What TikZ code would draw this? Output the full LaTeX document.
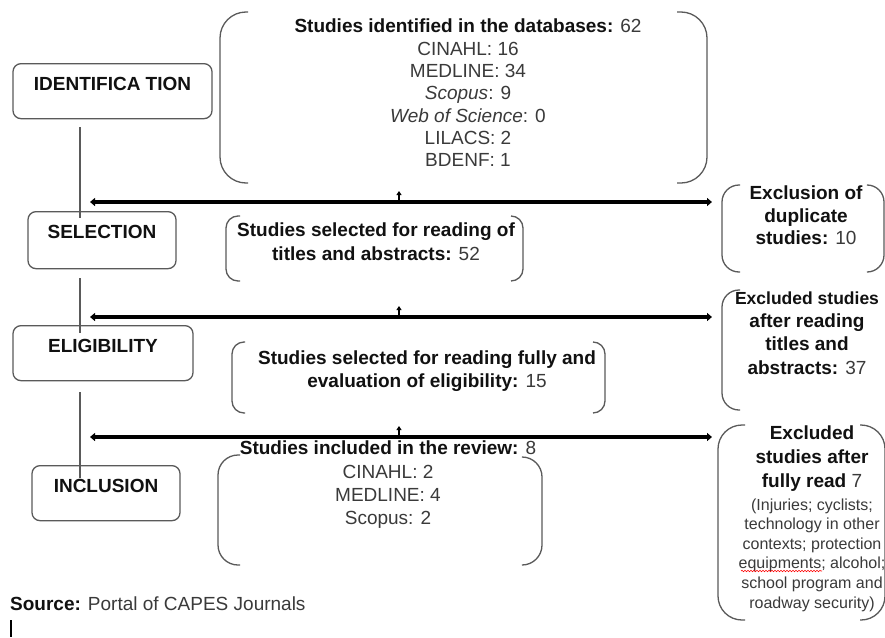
\documentclass[tikz,border=0pt]{standalone}
\usepackage{fontspec}
\setmainfont{Liberation Sans}
\usetikzlibrary{arrows.meta,decorations.pathmorphing}
\definecolor{txtgray}{HTML}{3A3A3A}
\definecolor{hdcol}{HTML}{111111}
\definecolor{linegray}{HTML}{5A5A5A}
\newcommand\myhd[1]{{\bfseries\color{hdcol}#1}}
\begin{document}
\begin{tikzpicture}[x=1pt,y=-1pt,
  phasebox/.style={draw=linegray,line width=1.3pt,rounded corners=8pt,anchor=north,
    inner xsep=0pt,inner ysep=0pt,text height=26.5pt,
    font=\fontsize{19}{22}\selectfont\bfseries,text=hdcol},
  brk/.style={draw=linegray,line width=1.3pt},
  vline/.style={draw=linegray,line width=1.3pt},
  harrow/.style={line width=3.5pt,{Triangle[length=5pt,width=8pt]}-{Triangle[length=5pt,width=8pt]}},
  uptick/.style={line width=1.5pt,-{Triangle[length=4pt,width=5pt]}},
  txt/.style={align=center,text=txtgray,inner sep=0pt}
]
\clip (0,0) rectangle (885,637);
\fill[white] (0,0) rectangle (885,637);

% phase boxes
\node[phasebox,minimum width=199pt,text depth=28.5pt] (id)  at (112.5,63) {IDENTIFICA TION};
\node[phasebox,minimum width=148pt,text depth=30.5pt] (sel) at (102,211) {SELECTION};
\node[phasebox,minimum width=180pt,text depth=28.5pt] (eli) at (103,325) {ELIGIBILITY};
\node[phasebox,minimum width=148pt,text depth=28.5pt] (inc) at (106,465) {INCLUSION};

% vertical connectors
\coordinate (xcol) at (80,0);
\draw[vline] ([yshift=-8pt]id.south -| xcol) -- ([yshift=-7pt]sel.north -| xcol);
\draw[vline] ([yshift=-9pt]sel.south -| xcol) -- ([yshift=-8pt]eli.north -| xcol);
\draw[vline] ([yshift=-11pt]eli.south -| xcol) -- ([yshift=-13pt]inc.north -| xcol);

% text groups
\node[txt,font=\fontsize{19}{22.3}\selectfont] (ident) at (468,93)
  {\myhd{Studies identified in the databases:} 62\\CINAHL: 16\\MEDLINE: 34\\\textit{Scopus}: 9\\\textit{Web of Science}: 0\\LILACS: 2\\BDENF: 1};
\node[txt,font=\fontsize{19}{24}\selectfont] (selt) at (376,242)
  {\myhd{Studies selected for reading of}\\\myhd{titles and abstracts:} 52};
\node[txt,font=\fontsize{19}{23}\selectfont] (elit) at (427,371.5)
  {\myhd{Studies selected for reading fully and}\\\myhd{evaluation of eligibility:} 15};
\node[txt,font=\fontsize{19}{23.3}\selectfont] (inct) at (388,485)
  {\myhd{Studies included in the review:} 8\\CINAHL: 2\\MEDLINE: 4\\Scopus: 2};
\node[txt,font=\fontsize{19}{22.5}\selectfont] (exa) at (806,215.5)
  {\myhd{Exclusion of}\\\myhd{duplicate}\\\myhd{studies:} 10};
\node[txt,font=\fontsize{19}{23.3}\selectfont] (exb) at (807,333)
  {{\fontsize{17.5}{23.3}\selectfont\myhd{Excluded studies}}\\\myhd{after reading}\\\myhd{titles and}\\\myhd{abstracts:} 37};
\node[txt,font=\fontsize{19}{24}\selectfont] (exc) at (812,459)
  {\myhd{Excluded}\\\myhd{studies after}\\\myhd{fully read} 7};
\node[txt,font=\fontsize{16}{19.6}\selectfont] (excd) at (812,555)
  {(Injuries; cyclists;\\technology in other\\contexts; protection\\equipments; alcohol;\\school program and\\roadway security)};
\draw[red,line width=0.6pt,decorate,decoration={snake,amplitude=0.7pt,segment length=3pt}] (741,571) -- (822,571);

% brackets
\draw[brk,rounded corners=26pt] (248,12) -- (220,12) -- (220,183) -- (248,183);
\draw[brk,rounded corners=26pt] (677,12) -- (707,12) -- (707,183) -- (677,183);
\draw[brk,rounded corners=12pt] (240,216) -- (226,216) -- (226,281) -- (240,281);
\draw[brk,rounded corners=12pt] (511,216) -- (523,216) -- (523,281) -- (511,281);
\draw[brk,rounded corners=12pt] (245,342) -- (232,342) -- (232,413) -- (245,413);
\draw[brk,rounded corners=12pt] (593,342) -- (605,342) -- (605,413) -- (593,413);
\draw[brk,rounded corners=20pt] (240,455) -- (218,455) -- (218,565) -- (240,565);
\draw[brk,rounded corners=20pt] (523,457) -- (542,457) -- (542,565) -- (523,565);
\draw[brk,rounded corners=17pt] (740,185) -- (722,185) -- (722,272) -- (740,272);
\draw[brk,rounded corners=17pt] (868,185) -- (884,185) -- (884,272) -- (868,272);
\draw[brk,rounded corners=17pt] (740,290) -- (722,290) -- (722,410) -- (740,410);
\draw[brk,rounded corners=17pt] (887,290) -- (904,290) -- (904,410) -- (887,410);
\draw[brk,rounded corners=24pt] (745,425) -- (718,425) -- (718,620) -- (745,620);
\draw[brk,rounded corners=24pt] (860,425) -- (885,425) -- (885,620) -- (860,620);

% horizontal arrows
\coordinate (a1l) at (90,202);  \coordinate (a1r) at (712,202);
\coordinate (a1m) at (399,202); \coordinate (a1t) at (399,191);
\coordinate (a2l) at (90,317);  \coordinate (a2r) at (712,317);
\coordinate (a2m) at (399,317); \coordinate (a2t) at (399,306);
\coordinate (a3l) at (90,437);  \coordinate (a3r) at (712,437);
\coordinate (a3m) at (399,437); \coordinate (a3t) at (399,426);
\draw[harrow] (a1l) -- (a1r);
\draw[uptick] (a1m) -- (a1t);
\draw[harrow] (a2l) -- (a2r);
\draw[uptick] (a2m) -- (a2t);
\draw[harrow] (a3l) -- (a3r);
\draw[uptick] (a3m) -- (a3t);

% source
\node[anchor=base west,inner sep=0pt,font=\fontsize{19}{22}\selectfont,text=txtgray] (src) at (10,610)
  {\myhd{Source:} Portal of CAPES Journals};
\coordinate (cur1) at (11,620); \coordinate (cur2) at (11,637);
\draw[line width=1.8pt] (cur1) -- (cur2);
\end{tikzpicture}
\end{document}
